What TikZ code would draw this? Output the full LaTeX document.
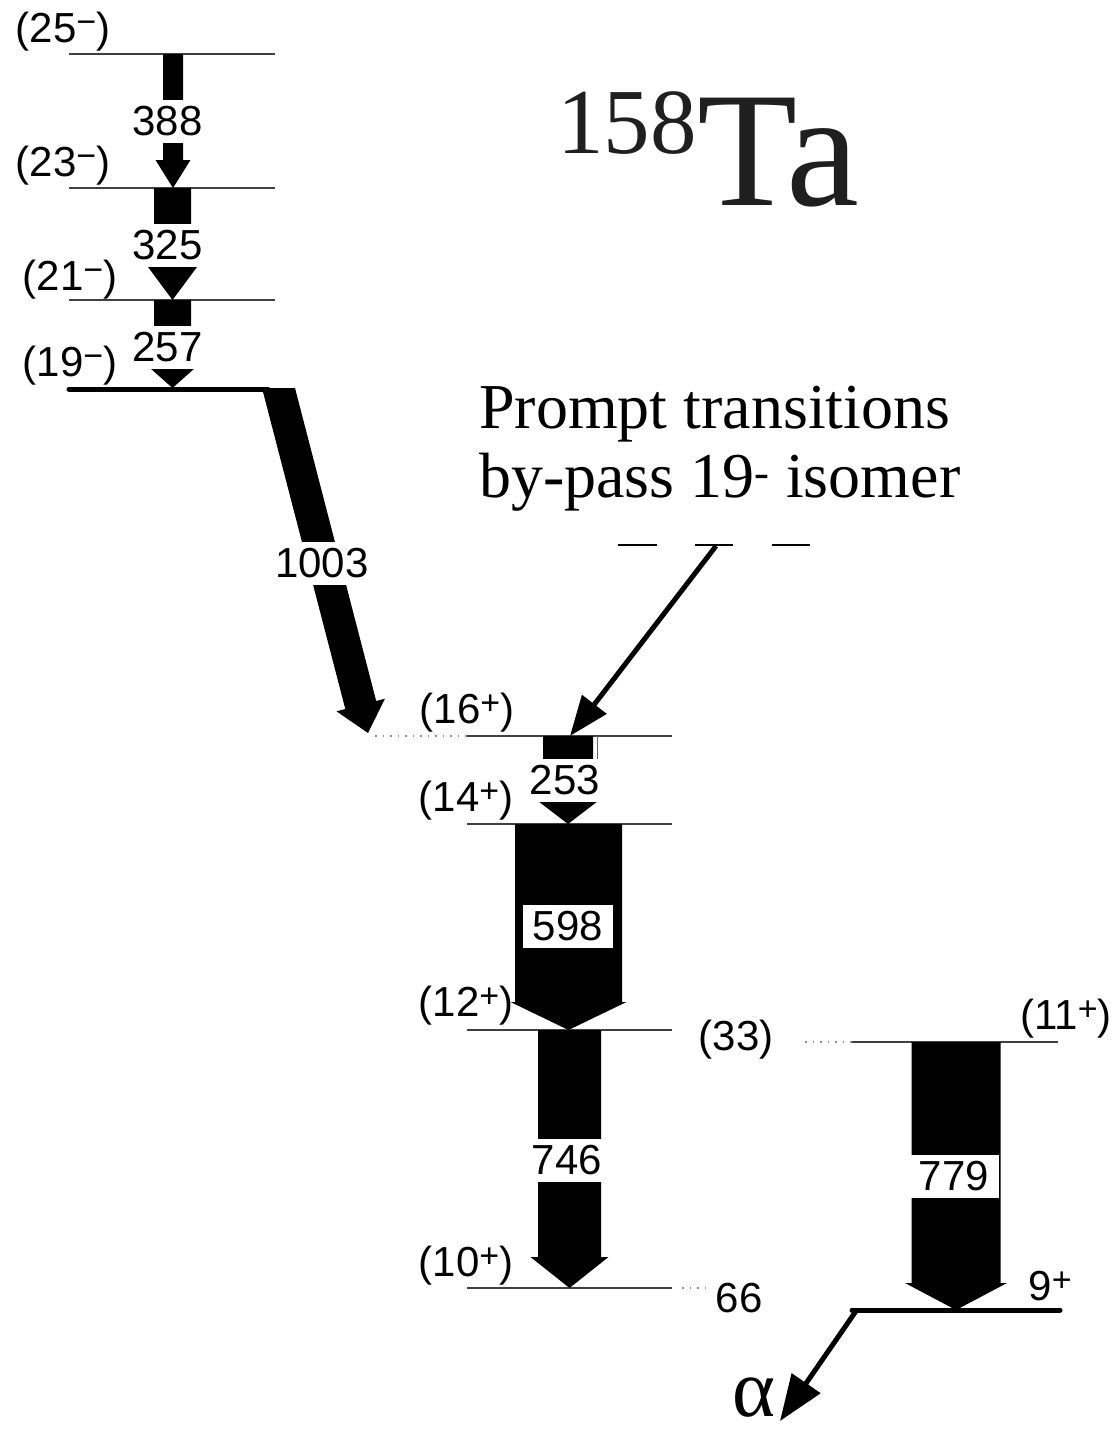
\documentclass[tikz,border=0pt]{standalone}
\usepackage{fontspec}
\setmainfont{Liberation Serif}
\setsansfont{Liberation Sans}
\usetikzlibrary{arrows.meta}
\newcommand\spx[1]{\raisebox{9pt}{\fontsize{34}{34}\selectfont #1}}
\newcommand\smallsup[1]{\textsuperscript{#1}}
% gamma arrow: cx, top, head base, tip, shaft half width, head half width
\newcommand\garrow[6]{%
  \fill (#1-#5,#2) -- (#1+#5,#2) -- (#1+#5,#3) -- (#1+#6,#3) -- (#1,#4)
        -- (#1-#6,#3) -- (#1-#5,#3) -- cycle;}
\begin{document}
\begin{tikzpicture}[x=1pt,y=-1pt,
  level/.style={line width=1.3pt, black!75},
  thicklevel/.style={line width=5pt, line cap=round},
  dotline/.style={line width=1.3pt, black!45, dash pattern=on 1.5pt off 6pt},
  lbl/.style={font=\sffamily\fontsize{42}{42}\selectfont, inner sep=0pt},
  elbl/.style={lbl, fill=white, inner xsep=3pt, minimum height=43pt},
  ptr/.style={line width=5pt, -{Triangle[length=46pt,width=34pt]}},
]
\useasboundingbox (0,0) rectangle (1119,1438);

% ---------- level lines ----------
\draw[level] (69,54) -- (275,54);
\draw[level] (69,188) -- (275,188);
\draw[level] (69,300) -- (275,300);
\draw[thicklevel] (69,389) -- (268,389);

\draw[level] (467,736) -- (672,736);
\draw[level] (467,824) -- (672,824);
\draw[level] (467,1030) -- (672,1030);
\draw[level] (467,1288) -- (672,1288);

\draw[level] (852,1042) -- (1058,1042);
\draw[thicklevel] (852,1310) -- (1060,1310);

% dotted connections
\draw[dotline] (375,736) -- (467,736);
\draw[dotline] (805,1042) -- (852,1042);
\draw[dotline] (682,1288) -- (708,1288);

% ---------- gamma arrows ----------
\garrow{173}{54}{160}{188}{10}{17.5}
\garrow{172.5}{188}{267}{300}{18.5}{24.5}
\garrow{172.5}{300}{368}{388}{18.5}{22.5}
\garrow{568}{736}{801}{824}{25}{30}
\draw[line width=1pt, black!60] (597,736) -- (597,760);
\garrow{568.5}{824}{1002}{1030}{53.5}{58}
\garrow{569.5}{1030}{1257}{1288}{31.5}{39}
\garrow{956}{1042}{1283}{1310}{44.5}{51}
% 1003 slanted transition
\fill (262,388) -- (295,388) -- (376.2,701) -- (384.9,698.7) -- (368,733)
      -- (336.5,711.3) -- (345.3,709) -- cycle;

% ---------- energy labels ----------
\node[elbl] (g388) at (167.5,121) {388};
\node[elbl] (g325) at (167.5,245) {325};
\node[elbl] (g257) at (167.5,347) {257};
\node[elbl] (g1003) at (322,563) {1003};
\node[elbl] (g253) at (565,780) {253};
\node[elbl, inner xsep=10pt] (g598) at (568,926) {598};
\node[elbl] (g746) at (567,1160) {746};
\node[elbl, minimum width=89pt] (g779) at (954,1176) {779};

% ---------- spin labels ----------
\node[lbl] (s25) at (63,32) {(25\spx{−})};
\node[lbl] (s23) at (63,166) {(23\spx{−})};
\node[lbl] (s21) at (70,280) {(21\spx{−})};
\node[lbl] (s19) at (70,366) {(19\spx{−})};
\node[lbl] (s16) at (467,713) {(16\spx{+})};
\node[lbl] (s14) at (466,801) {(14\spx{+})};
\node[lbl] (s12) at (466,1006) {(12\spx{+})};
\node[lbl] (s10) at (466,1266) {(10\spx{+})};
\node[lbl] (s11) at (1066,1019) {(11\spx{+})};
\node[lbl] (s9) at (1050,1286) {9\spx{+}};
\node[lbl] (e33) at (736,1040) {(33)};
\node[lbl] (e66) at (739,1298) {66};

% ---------- title ----------
\node[anchor=base west, inner sep=0pt, text=black!88,
      font=\fontsize{93}{93}\selectfont] (mass) at (557,153) {158};
\node[anchor=base west, inner sep=0pt, text=black!88,
      font=\fontsize{164}{164}\selectfont] (elem) at (697,205) {Ta};

% ---------- annotation ----------
\node[anchor=base west, inner sep=0pt, font=\fontsize{64}{64}\selectfont]
  (note1) at (479,428) {Prompt transitions};
\node[anchor=base west, inner sep=0pt, font=\fontsize{64}{64}\selectfont]
  (note2) at (479,497) {by-pass 19\smallsup{-} isomer};
\draw[line width=1.3pt] (618,545) -- (657,545);
\draw[line width=1.3pt] (695,545) -- (733,545);
\draw[line width=1.3pt] (772,545) -- (810,545);
\coordinate (pstart) at (716,546);
\coordinate (t16) at (570,736);
\draw[ptr, -{Triangle[length=40pt,width=30pt]}] (pstart) -- (t16);

% ---------- alpha decay ----------
\coordinate (astart) at (856,1311);
\coordinate (aend) at (780,1421);
\draw[ptr] (astart) -- (aend);
\node[inner sep=0pt, font=\fontsize{82}{82}\selectfont] (alpha) at (754,1398) {α};
\end{tikzpicture}
\end{document}
